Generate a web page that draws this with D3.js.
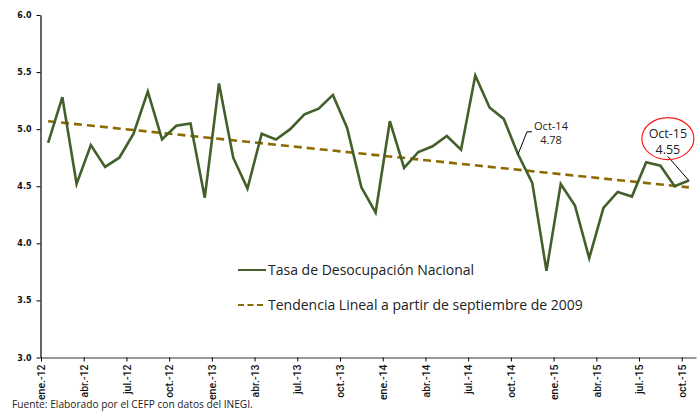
<!DOCTYPE html>
<html>
<head>
<meta charset="utf-8">
<script src="https://cdn.jsdelivr.net/npm/d3@7"></script>
<style>
  body { margin: 0; background: #fff; }
  svg { display: block; font-family: "Open Sans", sans-serif; }
</style>
</head>
<body>
<div id="chart"></div>
<script>
// Data
const monthNames = ['ene.', 'feb.', 'mar.', 'abr.', 'may.', 'jun.', 'jul.', 'ago.', 'sep.', 'oct.', 'nov.', 'dic.']
const years = ['12', '13', '14', '15']
const months = years.flatMap(y => monthNames.map(m => `${m}-${y}`)).slice(0, 46)

const desocupacion = [
  4.88, 5.28, 4.52, 4.86, 4.67, 4.75, 4.96, 5.33, 4.91, 5.03, 5.05, 4.40,
  5.40, 4.75, 4.48, 4.96, 4.91, 5.00, 5.13, 5.18, 5.30, 5.01, 4.49, 4.27,
  5.07, 4.66, 4.80, 4.85, 4.94, 4.82, 5.47, 5.19, 5.09, 4.78, 4.53, 3.76,
  4.52, 4.33, 3.87, 4.31, 4.45, 4.41, 4.71, 4.68, 4.50, 4.55
]
// straight trend, first and last month
const tendencia = [{ i: 0, v: 5.07 }, { i: 45, v: 4.49 }]

const yTicks = [3.0, 3.5, 4.0, 4.5, 5.0, 5.5, 6.0]
const xTicks = d3.range(0, 46, 3)

const notes = [
  { i: 33, label: 'Oct-14', value: '4.78' },
  { i: 45, label: 'Oct-15', value: '4.55' }
]

const green = '#435f2a'
const brown = '#8d6a00'

// Dimensions
const dims = { width: 700, height: 414, left: 41, right: 696, top: 15, bottom: 357.5 }

// Scales
const xScale = d3.scaleLinear().domain([0, months.length]).range([dims.left, dims.right])
const yScale = d3.scaleLinear().domain([3, 6]).range([dims.bottom, dims.top])
const xc = i => xScale(i + 0.5)

const svg = d3.select('#chart').append('svg')
  .attr('width', dims.width)
  .attr('height', dims.height)

// Axes
const yAxis = d3.axisLeft(yScale)
  .tickValues(yTicks)
  .tickFormat(d3.format('.1f'))
  .tickSize(4)
  .tickSizeOuter(0)

const yAxisGroup = svg.append('g')
  .attr('transform', `translate(${dims.left - 0.5},0)`)
  .call(yAxis)
yAxisGroup.select('.domain').attr('stroke', '#000').attr('stroke-width', 1.2)
yAxisGroup.selectAll('.tick line').attr('stroke', '#000')
yAxisGroup.selectAll('.tick text')
  .attr('x', -9)
  .attr('fill', '#111')
  .style('font-family', 'DejaVu Sans')
  .style('font-weight', 'bold')
  .style('font-size', '8px')

const xAxis = d3.axisBottom(xScale)
  .tickValues(xTicks)
  .tickFormat(i => months[i])
  .tickSize(4)
  .tickSizeOuter(0)

const xAxisGroup = svg.append('g')
  .attr('transform', `translate(0,${dims.bottom})`)
  .call(xAxis)
xAxisGroup.select('.domain').attr('stroke', '#333').attr('stroke-width', 1.2)
xAxisGroup.selectAll('.tick line').attr('stroke', '#000')
xAxisGroup.selectAll('.tick text')
  .attr('transform', 'rotate(-90)')
  .attr('x', -7)
  .attr('y', 0)
  .attr('dy', '0.35em')
  .attr('text-anchor', 'end')
  .attr('fill', '#111')
  .style('font-family', 'Roboto')
  .style('font-weight', '500')
  .style('font-size', '10.5px')

// Lines
const line = d3.line()
  .x((d, i) => xc(i))
  .y(d => yScale(d))

svg.append('path')
  .datum(tendencia)
  .attr('fill', 'none')
  .attr('stroke', brown)
  .attr('stroke-width', 2.6)
  .attr('stroke-dasharray', '8,5')
  .attr('d', d3.line().x(d => xc(d.i)).y(d => yScale(d.v)))

svg.append('path')
  .datum(desocupacion)
  .attr('fill', 'none')
  .attr('stroke', green)
  .attr('stroke-width', 2.6)
  .attr('stroke-linejoin', 'miter')
  .attr('d', line)

// Annotations
const n14 = notes[0]
const p14 = [xc(n14.i), yScale(desocupacion[n14.i])]
svg.append('polyline')
  .attr('points', [p14, [p14[0] + 9, p14[1] - 22.5], [p14[0] + 14, p14[1] - 22.5]].map(p => p.join(',')).join(' '))
  .attr('fill', 'none')
  .attr('stroke', '#000')
  .attr('stroke-width', 1)
svg.append('text')
  .attr('x', p14[0] + 33).attr('y', p14[1] - 24)
  .attr('text-anchor', 'middle')
  .attr('font-size', 11).attr('fill', '#222')
  .text(n14.label)
svg.append('text')
  .attr('x', p14[0] + 33).attr('y', p14[1] - 10)
  .attr('text-anchor', 'middle')
  .attr('font-size', 11).attr('fill', '#222')
  .text(n14.value)

const n15 = notes[1]
const p15 = [xc(n15.i), yScale(desocupacion[n15.i])]
const c15 = [p15[0] - 21, p15[1] - 42]
svg.append('line')
  .attr('x1', p15[0]).attr('y1', p15[1])
  .attr('x2', c15[0]).attr('y2', c15[1] + 18)
  .attr('stroke', '#000')
  .attr('stroke-width', 1)
svg.append('ellipse')
  .attr('cx', c15[0]).attr('cy', c15[1])
  .attr('rx', 26).attr('ry', 21)
  .attr('fill', 'none')
  .attr('stroke', '#ff1a1a')
  .attr('stroke-width', 1.2)
svg.append('text')
  .attr('x', c15[0]).attr('y', c15[1] - 1)
  .attr('text-anchor', 'middle')
  .attr('font-size', 12.5).attr('fill', '#222')
  .text(n15.label)
svg.append('text')
  .attr('x', c15[0]).attr('y', c15[1] + 15.5)
  .attr('text-anchor', 'middle')
  .attr('font-size', 12.5).attr('fill', '#222')
  .text(n15.value)

// Legend
const legend = svg.append('g').attr('transform', 'translate(238,270)')
legend.append('line')
  .attr('x1', 0).attr('x2', 28)
  .attr('stroke', green).attr('stroke-width', 2)
legend.append('text')
  .attr('x', 30).attr('dy', '0.35em')
  .attr('font-size', 14).attr('fill', '#222')
  .text('Tasa de Desocupación Nacional')
legend.append('line')
  .attr('x1', 0).attr('x2', 28).attr('y1', 35).attr('y2', 35)
  .attr('stroke', brown).attr('stroke-width', 2)
  .attr('stroke-dasharray', '6,3.5')
legend.append('text')
  .attr('x', 30).attr('y', 35).attr('dy', '0.35em')
  .attr('font-size', 14).attr('fill', '#222')
  .text('Tendencia Lineal a partir de septiembre de 2009')

// Source
svg.append('text')
  .attr('x', 12).attr('y', 408)
  .attr('font-size', 10.2).attr('fill', '#222')
  .text('Fuente: Elaborado por el CEFP con datos del INEGI.')
</script>
</body>
</html>
